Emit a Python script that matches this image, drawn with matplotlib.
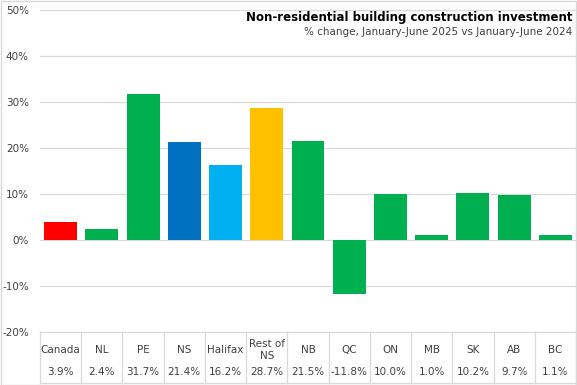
import matplotlib.pyplot as plt
import matplotlib.transforms as mtransforms
from matplotlib.patches import Rectangle

categories = ["Canada", "NL", "PE", "NS", "Halifax", "Rest of\nNS", "NB", "QC", "ON", "MB", "SK", "AB", "BC"]
values = [3.9, 2.4, 31.7, 21.4, 16.2, 28.7, 21.5, -11.8, 10.0, 1.0, 10.2, 9.7, 1.1]
colors = ["#FF0000", "#00B050", "#00B050", "#0070C0", "#00B0F0", "#FFC000", "#00B050",
          "#00B050", "#00B050", "#00B050", "#00B050", "#00B050", "#00B050"]
yticks = [-20, -10, 0, 10, 20, 30, 40, 50]

W, H = 577, 385
fig = plt.figure(figsize=(W / 100, H / 100), dpi=100)
plt.rcParams['font.family'] = ['DejaVu Sans']

# plot area in pixels
left, right, top, bottom = 40, 576, 10, 332
ax = fig.add_axes([left / W, 1 - bottom / H, (right - left) / W, (bottom - top) / H])

x = list(range(len(categories)))
ax.bar(x, values, width=0.8, color=colors, zorder=3)
ax.set_xlim(-0.5, len(categories) - 0.5)
ax.set_ylim(-20, 50)
ax.set_yticks(yticks)
ax.set_yticklabels([f"{t}%" for t in yticks], fontsize=7.5, color="#404040")
ax.tick_params(axis="y", length=0, pad=8)
ax.set_xticks([])
ax.grid(axis="y", color="#D9D9D9", linewidth=0.9, zorder=0)
for gl in ax.get_ygridlines():
    gl.set_clip_on(False)
for s in ax.spines.values():
    s.set_visible(False)

# table under the plot area: x in data, y in figure pixels
trans = mtransforms.blended_transform_factory(ax.transData, fig.transFigure)
def fy(py):
    return 1 - py / H
tab_bottom = 383
for i in range(len(categories) + 1):
    ax.plot([i - 0.5, i - 0.5], [fy(bottom), fy(tab_bottom)], transform=trans,
            color="#D9D9D9", linewidth=0.9, clip_on=False)
ax.plot([-0.5, len(categories) - 0.5], [fy(tab_bottom), fy(tab_bottom)], transform=trans,
        color="#D9D9D9", linewidth=0.9, clip_on=False)
for i, (c, v) in enumerate(zip(categories, values)):
    ax.text(i, fy(350), c, transform=trans, ha="center", va="center",
            fontsize=7.5, color="#404040", linespacing=1.2)
    ax.text(i, fy(372), f"{v:.1f}%", transform=trans, ha="center", va="center",
            fontsize=7.5, color="#404040")

fig.text(572 / W, fy(18), "Non-residential building construction investment",
         ha="right", va="center", fontsize=8.5, fontweight="bold", color="black")
fig.text(572 / W, fy(32), "% change, January-June 2025 vs January-June 2024",
         ha="right", va="center", fontsize=7.5, color="#404040")

fig.patches.append(Rectangle((0.5 / W, 0.5 / H), (W - 1.5) / W, (H - 1.5) / H,
                             transform=fig.transFigure, fill=False,
                             edgecolor="#D9D9D9", linewidth=1))

fig.savefig("out.png", dpi=100)
